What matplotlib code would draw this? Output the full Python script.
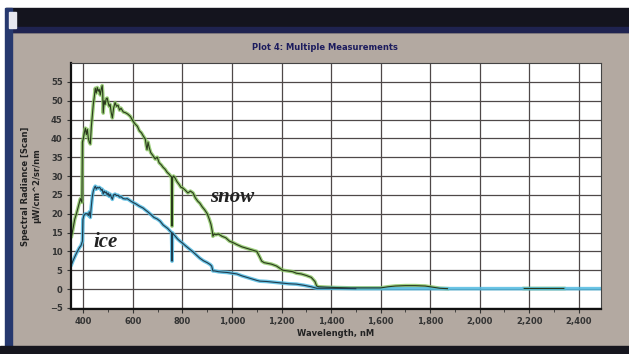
import numpy as np
import matplotlib
matplotlib.use('Agg')
import matplotlib.pyplot as plt
from matplotlib.patches import Rectangle
from matplotlib.ticker import FuncFormatter, MultipleLocator

# snow spectrum (nm, radiance)
snow_wl = [352, 358, 365, 372, 380, 388, 394, 396, 400, 404, 408, 412, 416, 420, 424, 428,
           432, 436, 440, 444, 448, 452, 456, 460, 464, 468, 472, 476, 478, 480, 484, 488,
           492, 496, 500, 504, 508, 512, 517, 522, 528, 534, 540, 546, 552, 561, 570, 580,
           590, 600, 609, 618, 626, 634, 642, 650, 654, 657, 661, 666, 672, 680, 690, 698,
           706, 714, 722, 730, 738, 746, 752, 756, 758, 760, 764, 770, 778, 786, 794, 802,
           812, 822, 832, 843, 852, 862, 870, 880, 890, 900, 908, 915, 920, 923, 928, 935,
           945, 960, 975, 990, 1005, 1020, 1040, 1060, 1080, 1100, 1112, 1120, 1130, 1145,
           1160, 1180, 1205, 1225, 1245, 1260, 1280, 1300, 1320, 1335, 1342, 1350, 1380,
           1420, 1480, 1550, 1600, 1630, 1660, 1700, 1740, 1780, 1810, 1840, 1870, 1900,
           2180, 2260, 2340]
snow_val = [14, 16, 18.5, 20, 22, 24, 23, 39, 40, 41.5, 42.7, 41, 42.4, 40, 39, 38.5,
            43, 46, 49, 51, 53.3, 52, 53.5, 52.5, 53, 51.5, 53, 54, 52, 46.7, 50, 49,
            50.5, 50.7, 49.5, 48.5, 49, 47, 45.4, 48, 49.5, 48.5, 48.8, 47.5, 48, 47, 46.8, 46.4,
            45.8, 44.6, 43.8, 43.2, 42, 41.5, 40.6, 39.8, 38, 37, 39, 37.5, 36.2, 35.5, 34.5, 35,
            33.5, 33, 32.3, 31.8, 31, 30.5, 30, 29.8, 16.7, 29.5, 30, 29.5, 28.5, 27.8, 27, 26.8,
            26.2, 25.5, 26, 25.5, 24.2, 23.3, 22.8, 21.8, 21, 20, 18.6, 17.2, 15.5, 14, 14.6, 14.4,
            14.6, 14, 13.6, 12.7, 12.3, 11.8, 11.2, 10.8, 10.4, 10, 8.5, 7.4, 7, 6.8,
            6.6, 6.1, 5, 4.8, 4.6, 4.2, 4, 3.6, 3.1, 2, 0.8, 0.6, 0.5,
            0.4, 0.3, 0.3, 0.3, 0.6, 0.8, 0.9, 0.9, 0.8, 0.5, 0.2, 0.1, np.nan,
            0.15, 0.15, 0.15]

# ice spectrum (nm, radiance)
ice_wl = [352, 358, 365, 372, 376, 384, 390, 396, 398, 402, 408, 416, 420, 424, 428, 432,
          436, 440, 444, 448, 452, 456, 460, 464, 468, 472, 476, 480, 484, 488, 492, 496,
          500, 504, 508, 512, 517, 522, 528, 534, 540, 546, 552, 561, 570, 577, 590, 600,
          612, 626, 641, 650, 660, 672, 685, 698, 710, 722, 730, 740, 750, 756, 758, 760,
          764, 770, 780, 790, 800, 812, 825, 840, 855, 870, 885, 900, 912, 918, 923, 930,
          945, 960, 980, 1000, 1020, 1040, 1060, 1080, 1100, 1112, 1140, 1170, 1200, 1230,
          1260, 1290, 1320, 1342, 1400, 1500, 1600, 1700, 1800, 1900, 2000, 2100, 2200,
          2300, 2400, 2490]
ice_val = [6.5, 7.5, 8.5, 9.5, 10, 11, 11.5, 12.7, 18.5, 19.5, 20, 20, 19.5, 20.5, 19, 22,
           24.5, 26, 26.8, 27.3, 26.5, 27, 26.8, 27, 26.8, 26.2, 26.5, 25.2, 26, 25.5, 25.8, 25,
           25.5, 24.6, 25.2, 24.5, 23.8, 25, 25.2, 24.8, 24.9, 24.4, 24.5, 24, 23.9, 24, 23.4, 23,
           22.6, 22, 21.5, 21, 20.5, 19.8, 19, 18.6, 18, 17, 16.6, 16.1, 15.4, 15, 7.4, 14.9,
           14.5, 14.1, 13.3, 12.7, 12.2, 11.5, 10.8, 10, 9.1, 8.2, 7.5, 7, 6.5, 6.1, 4.8, 4.8,
           4.6, 4.5, 4.4, 4.2, 4, 3.5, 3.1, 2.7, 2.3, 2.1, 2, 1.8, 1.6, 1.4,
           1.3, 1, 0.6, 0.2, 0.2, 0.1, 0.1, 0.1, 0.1, 0.1, 0.1, 0.1, 0.1,
           0.1, 0.1, 0.1]

x_ticks = list(range(400, 2401, 200))
y_ticks = list(range(-5, 56, 5))

bg = '#b3a9a1'
fig = plt.figure(figsize=(6.29, 3.54), dpi=100, facecolor=bg)

# window frame
fig.patches.append(Rectangle((0, 1 - 8 / 354), 1, 8 / 354, transform=fig.transFigure,
                             color='white', zorder=0))
fig.patches.append(Rectangle((0, 1 - 32 / 354), 1, 24 / 354, transform=fig.transFigure,
                             color='#14141e', zorder=0))
fig.patches.append(Rectangle((0, 1 - 32 / 354), 1, 5 / 354, transform=fig.transFigure,
                             color='#1f2350', zorder=0))
fig.patches.append(Rectangle((0, 0), 5 / 629, 1, transform=fig.transFigure,
                             color='white', zorder=0))
fig.patches.append(Rectangle((5 / 629, 0), 7 / 629, 1 - 8 / 354, transform=fig.transFigure,
                             color='#26386e', zorder=0))
fig.patches.append(Rectangle((0, 0), 1, 8 / 354, transform=fig.transFigure,
                             color='#16161e', zorder=0))
fig.patches.append(Rectangle((9 / 629, 1 - 28 / 354), 7 / 629, 16 / 354, transform=fig.transFigure,
                             color='#e8e8ef', zorder=1))

ax = fig.add_axes([71 / 629, 1 - 309 / 354, 530 / 629, 246 / 354])
ax.set_facecolor('white')

ax.plot(snow_wl, snow_val, color='#86c45e', lw=2.6, alpha=0.8, solid_joinstyle='round')
ax.plot(ice_wl, ice_val, color='#52bbe2', lw=2.6, alpha=0.85, solid_joinstyle='round')
ax.plot(snow_wl, snow_val, color='#2a3a1c', lw=0.8)
ax.plot(ice_wl[:100], ice_val[:100], color='#203c4e', lw=0.8)

ax.text(1000, 24.5, 'snow', family='Liberation Serif', style='italic', weight='bold',
        fontsize=15, color='#222222', ha='center', va='center')
ax.text(490, 12.5, 'ice', family='Liberation Serif', style='italic', weight='bold',
        fontsize=15, color='#222222', ha='center', va='center')

ax.set_xlim(350, 2490)
ax.set_ylim(-5.3, 60)
ax.set_xticks(x_ticks)
ax.set_yticks(y_ticks)
ax.xaxis.set_minor_locator(MultipleLocator(100))
ax.xaxis.set_major_formatter(FuncFormatter(lambda v, p: f'{int(v):,}'))
ax.grid(True, which='major', color='#4f4848', lw=0.9)
ax.set_axisbelow(True)

for s in ['left', 'bottom']:
    ax.spines[s].set_linewidth(1.6)
    ax.spines[s].set_color('#111111')
for s in ['top', 'right']:
    ax.spines[s].set_linewidth(0.8)
    ax.spines[s].set_color('#444444')

ax.tick_params(axis='both', which='major', labelsize=6, colors='#333333', length=3,
               width=0.8, pad=3)
ax.tick_params(axis='x', which='minor', length=2, width=0.6, colors='#333333')
for lab in ax.get_xticklabels() + ax.get_yticklabels():
    lab.set_fontweight('bold')

ax.set_xlabel('Wavelength, nM', fontsize=6, fontweight='bold', color='#222222', labelpad=2)
ax.set_ylabel('Spectral Radiance [Scan]\nµW/cm^2/sr/nm', fontsize=6, fontweight='bold',
              color='#222222', labelpad=6, linespacing=1.3)

fig.text(325 / 629, 1 - 48 / 354, 'Plot 4: Multiple Measurements', fontsize=6,
         fontweight='bold', color='#1c1c5e', ha='center', va='center')

fig.savefig('out.png', dpi=100, facecolor=bg)
